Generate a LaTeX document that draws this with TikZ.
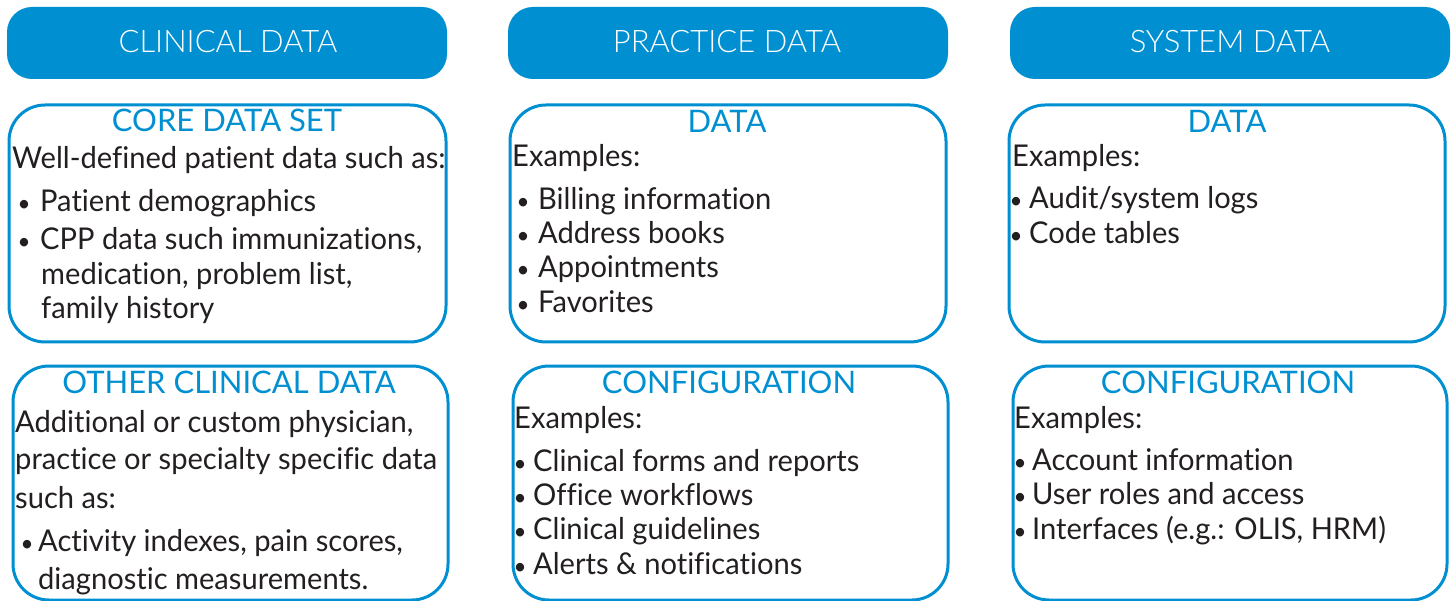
\documentclass[tikz,border=0pt]{standalone}
\usepackage{fontspec}
\setmainfont{Lato}[FakeStretch=0.97, Ligatures=NoCommon]
\newfontfamily\hdrfont{Lato Light}
\newfontfamily\ttlfont{Lato}
\definecolor{cblue}{RGB}{0,143,208}
\definecolor{ctext}{RGB}{35,31,32}
\tikzset{
  hdr/.style={fill=cblue, draw=none, rounded corners=25pt},
  boxframe/.style={draw=cblue, line width=3pt, rounded corners=36pt},
  hlab/.style={anchor=base, inner sep=0pt, text=white, font=\hdrfont\fontsize{31}{31}\selectfont},
  ttl/.style={anchor=base, inner sep=0pt, text=cblue, font=\ttlfont\fontsize{31}{31}\selectfont},
  txt/.style={anchor=base west, inner sep=0pt, text=ctext, font=\fontsize{30}{30}\selectfont},
  bul/.style={anchor=base, inner sep=0pt, text=ctext, font=\fontsize{23}{23}\selectfont},
}
\begin{document}
\begin{tikzpicture}[x=1pt,y=-1pt]
\useasboundingbox (0,0) rectangle (1453,601);
% headers
\path[hdr] (7,7) rectangle (447,79);
\path[hdr] (508,7) rectangle (948,79);
\path[hdr] (1010,7) rectangle (1450,79);
\node[hlab] (h1) at (228,53) {CLINICAL DATA};
\node[hlab] (h2) at (727,53) {PRACTICE DATA};
\node[hlab] (h3) at (1230,53) {SYSTEM DATA};
% boxes
\draw[boxframe] (9,105) rectangle (446,342);
\draw[boxframe] (510,105) rectangle (946,342);
\draw[boxframe] (1009,105) rectangle (1445,342);
\draw[boxframe] (13,366) rectangle (448,600);
\draw[boxframe] (513,366) rectangle (948,600);
\draw[boxframe] (1013,366) rectangle (1447,600);
% titles
\node[ttl] (t1) at (227,132) {CORE DATA SET};
\node[ttl] (t2) at (727,133) {DATA};
\node[ttl] (t3) at (1227,133) {DATA};
\node[ttl] (t4) at (229,393) {OTHER CLINICAL DATA};
\node[ttl] (t5) at (729,393) {CONFIGURATION};
\node[ttl] (t6) at (1228,393) {CONFIGURATION};
% clinical core
\node[txt] (c1) at (12,169) {Well-defined patient data such as:};
\node[bul] (cb1) at (24,212) {•};
\node[txt] (c2) at (40,212) {Patient demographics};
\node[bul] (cb2) at (24,250) {•};
\node[txt] (c3) at (40,250) {CPP data such immunizations,};
\node[txt] (c4) at (41,285) {medication, problem list,};
\node[txt] (c5) at (41,319) {family history};
% other clinical
\node[txt] (o1) at (15,432) {Additional or custom physician,};
\node[txt] (o2) at (15,469) {practice or specialty specific data};
\node[txt] (o3) at (15,508) {such as:};
\node[bul] (ob1) at (27,551) {•};
\node[txt] (o4) at (38,551) {Activity indexes, pain scores,};
\node[txt] (o5) at (38,589) {diagnostic measurements.};
% practice data
\node[txt] (p1) at (512,167) {Examples:};
\node[bul] (pb1) at (523,210) {•};
\node[txt] (p2) at (538,210) {Billing information};
\node[bul] (pb2) at (523,244) {•};
\node[txt] (p3) at (538,244) {Address books};
\node[bul] (pb3) at (523,278) {•};
\node[txt] (p4) at (538,278) {Appointments};
\node[bul] (pb4) at (523,313) {•};
\node[txt] (p5) at (538,313) {Favorites};
% practice config
\node[txt] (q1) at (514,428) {Examples:};
\node[bul] (qb1) at (520,471) {•};
\node[txt] (q2) at (533,471) {Clinical forms and reports};
\node[bul] (qb2) at (520,505) {•};
\node[txt] (q3) at (533,505) {Office workflows};
\node[bul] (qb3) at (520,539) {•};
\node[txt] (q4) at (533,539) {Clinical guidelines};
\node[bul] (qb4) at (520,574) {•};
\node[txt] (q5) at (533,574) {Alerts \& notifications};
% system data
\node[txt] (s1) at (1012,167) {Examples:};
\node[bul] (sb1) at (1016,209) {•};
\node[txt] (s2) at (1029,209) {Audit/system logs};
\node[bul] (sb2) at (1016,244) {•};
\node[txt] (s3) at (1029,244) {Code tables};
% system config
\node[txt] (u1) at (1014,428) {Examples:};
\node[bul] (ub1) at (1020,470) {•};
\node[txt] (u2) at (1032,470) {Account information};
\node[bul] (ub2) at (1020,504) {•};
\node[txt] (u3) at (1032,504) {User roles and access};
\node[bul] (ub3) at (1020,539) {•};
\node[txt] (u4) at (1032,539) {Interfaces (e.g.: OLIS, HRM)};
\end{tikzpicture}
\end{document}
